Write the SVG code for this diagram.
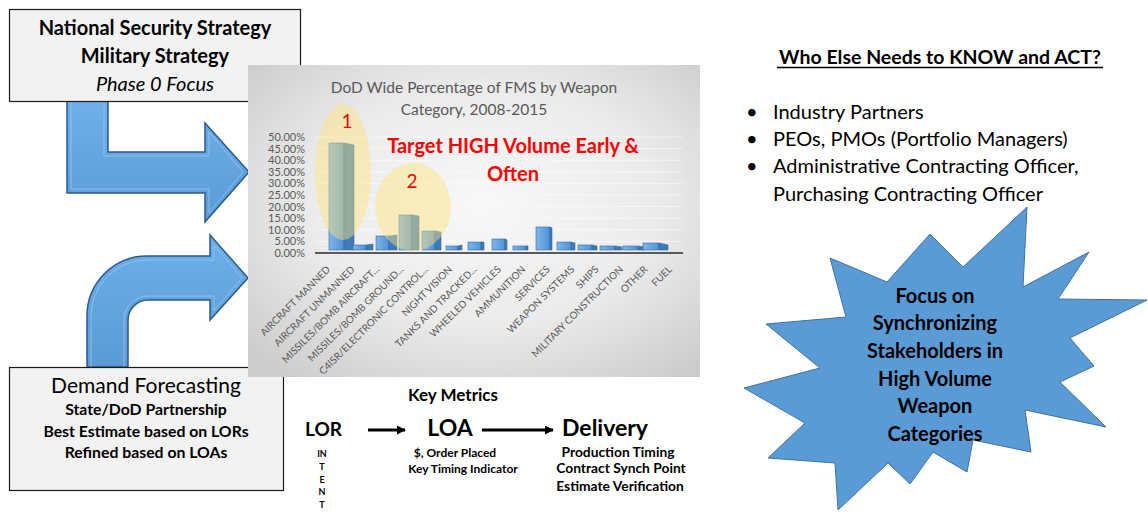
<svg xmlns="http://www.w3.org/2000/svg" width="1148" height="516" viewBox="0 0 1148 516">
<defs>
<style>
.box{fill:#f2f2f2;stroke:#1a1a1a;stroke-width:1.2}
.bigarrow{fill:url(#arrGrad);stroke:#2b5a8a;stroke-width:1.5}
.inner{fill:none;stroke:#9cc6ee;stroke-width:1;opacity:.8}
.t{font-family:Lato,"Liberation Sans",sans-serif;fill:#000}
.b{font-weight:bold}
.c{text-anchor:middle}
.ylab{font-family:Lato,"Liberation Sans",sans-serif;font-size:11px;fill:#595959;text-anchor:end}
.xlab{font-family:Lato,"Liberation Sans",sans-serif;font-size:10px;fill:#595959;text-anchor:end}
.red{font-family:Lato,"Liberation Sans",sans-serif;fill:#ff0000;text-anchor:middle}
.grid{stroke:#ffffff;stroke-width:1;opacity:.55}
.front{fill:url(#barGrad);stroke:#2e6aa8;stroke-width:.6}
.side{fill:#3f7ab8;stroke:#2e6aa8;stroke-width:.6}
.conn{stroke:#000;stroke-width:3;fill:none;marker-end:url(#ah)}
</style>
<linearGradient id="arrGrad" x1="0" y1="0" x2="0" y2="1">
<stop offset="0" stop-color="#6eb0ea"/>
<stop offset="1" stop-color="#5a9ad6"/>
</linearGradient>
<linearGradient id="barGrad" x1="0" y1="0" x2="1" y2="0">
<stop offset="0" stop-color="#7fb6e8"/>
<stop offset="1" stop-color="#5093d4"/>
</linearGradient>
<radialGradient id="chartBg" cx="52%" cy="45%" r="70%">
<stop offset="0" stop-color="#f8f8f8"/>
<stop offset="0.55" stop-color="#ebebeb"/>
<stop offset="1" stop-color="#cccccc"/>
</radialGradient>
<marker id="ah" viewBox="0 0 10 10" refX="9" refY="5" markerWidth="3" markerHeight="3" orient="auto" markerUnits="strokeWidth">
<path d="M0,0 L10,5 L0,10 Z" fill="#000"/>
</marker>
</defs>
<rect width="1148" height="516" fill="#ffffff"/>

<g id="arrow-top">
<path class="bigarrow" d="M67,101 L108,101 L108,152 L205,152 L205,123 L249,172 L205,222 L205,193 L67,193 Z"/>
<path class="inner" d="M71,101 L71,189 L209,189 L209,213 L243,172 L209,132 L209,156 L104,156 L104,101"/>
</g>
<g id="arrow-bottom">
<path class="bigarrow" d="M87,367 L87,316 A60,60 0 0 1 147,256 L210,256 L210,235 L248,278 L210,320 L210,300 L148,300 A20,20 0 0 0 128,320 L128,367 Z"/>
<path class="inner" d="M91,367 L91,316 A56,56 0 0 1 147,260 L214,260 L214,245 L242,278 L214,311 L214,296 L148,296 A24,24 0 0 0 124,320 L124,367"/>
</g>

<g id="box-strategy">
<rect class="box" x="9.5" y="9.5" width="291" height="92"/>
<text class="t b c" x="155" y="35" font-size="20">National Security Strategy</text>
<text class="t b c" x="155" y="63" font-size="20">Military Strategy</text>
<text class="t c" x="155" y="91" font-size="20" font-style="italic">Phase 0 Focus</text>
</g>

<g id="box-demand">
<rect class="box" x="9.5" y="367.5" width="274" height="123"/>
<text class="t c" x="146" y="393" font-size="21">Demand Forecasting</text>
<text class="t b c" x="146" y="415" font-size="15.8">State/DoD Partnership</text>
<text class="t b c" x="146" y="437" font-size="15.8">Best Estimate based on LORs</text>
<text class="t b c" x="146" y="458" font-size="15.8">Refined based on LOAs</text>
</g>

<g id="chart">
<rect x="248" y="65" width="452" height="312" fill="url(#chartBg)"/>
<text class="c" x="474" y="93" font-family="Lato,'Liberation Sans',sans-serif" font-size="15.5" fill="#595959">DoD Wide Percentage of FMS by Weapon</text>
<text class="c" x="474" y="115" font-family="Lato,'Liberation Sans',sans-serif" font-size="15.5" fill="#595959">Category, 2008-2015</text>
<g id="gridlines">
<line class="grid" x1="316" y1="241.4" x2="682" y2="241.4"/>
<line class="grid" x1="316" y1="229.8" x2="682" y2="229.8"/>
<line class="grid" x1="316" y1="218.2" x2="682" y2="218.2"/>
<line class="grid" x1="316" y1="206.6" x2="682" y2="206.6"/>
<line class="grid" x1="316" y1="195" x2="682" y2="195"/>
<line class="grid" x1="316" y1="183.4" x2="682" y2="183.4"/>
<line class="grid" x1="316" y1="171.8" x2="682" y2="171.8"/>
<line class="grid" x1="316" y1="160.2" x2="682" y2="160.2"/>
<line class="grid" x1="316" y1="148.6" x2="682" y2="148.6"/>
<line class="grid" x1="316" y1="137" x2="682" y2="137"/>
</g>
<g id="ylabels">
<text class="ylab" x="305" y="257">0.00%</text>
<text class="ylab" x="305" y="245.4">5.00%</text>
<text class="ylab" x="305" y="233.8">10.00%</text>
<text class="ylab" x="305" y="222.2">15.00%</text>
<text class="ylab" x="305" y="210.6">20.00%</text>
<text class="ylab" x="305" y="199">25.00%</text>
<text class="ylab" x="305" y="187.4">30.00%</text>
<text class="ylab" x="305" y="175.8">35.00%</text>
<text class="ylab" x="305" y="164.2">40.00%</text>
<text class="ylab" x="305" y="152.6">45.00%</text>
<text class="ylab" x="305" y="141">50.00%</text>
</g>
<line x1="315" y1="253" x2="683" y2="253" stroke="#5a5a5a" stroke-width="2"/>
<g id="bars">
<rect class="front" x="329" y="143" width="15" height="107"/><polygon class="side" points="344,143 354,145 354,250 344,250"/>
<rect class="front" x="353" y="245" width="13" height="5"/><polygon class="side" points="366,245 373,244 373,250 366,250"/>
<rect class="front" x="376" y="236" width="13" height="14"/><polygon class="side" points="389,236 397,235 397,250 389,250"/>
<rect class="front" x="399" y="215" width="13" height="35"/><polygon class="side" points="412,215 419,216 419,250 412,250"/>
<rect class="front" x="422" y="231" width="13" height="19"/><polygon class="side" points="435,231 441,232 441,250 435,250"/>
<rect class="front" x="446" y="246" width="12" height="4"/><polygon class="side" points="458,246 462,245 462,250 458,250"/>
<rect class="front" x="468" y="242" width="13" height="8"/><polygon class="side" points="481,242 484,242 484,250 481,250"/>
<rect class="front" x="492" y="239" width="13" height="11"/><polygon class="side" points="505,239 507,240 507,250 505,250"/>
<rect class="front" x="513" y="246" width="13" height="4"/><polygon class="side" points="526,246 528,246 528,250 526,250"/>
<rect class="front" x="536" y="227" width="14" height="23"/><polygon class="side" points="550,227 552,228 552,250 550,250"/>
<rect class="front" x="557" y="242" width="14" height="8"/><polygon class="side" points="571,242 575,243 575,250 571,250"/>
<rect class="front" x="578" y="245" width="14" height="5"/><polygon class="side" points="592,245 597,246 597,250 592,250"/>
<rect class="front" x="600" y="246" width="15" height="4"/><polygon class="side" points="615,246 622,247 622,250 615,250"/>
<rect class="front" x="623" y="246" width="15" height="4"/><polygon class="side" points="638,246 645,247 645,250 638,250"/>
<rect class="front" x="643" y="243" width="16" height="7"/><polygon class="side" points="659,243 668,245 668,250 659,250"/>
</g>
<g id="highlights">
<ellipse cx="343" cy="172" rx="28" ry="68" fill="#ffe27a" opacity="0.45"/>
<ellipse cx="413" cy="207" rx="38" ry="44" fill="#ffe27a" opacity="0.45"/>
</g>
<g id="xlabels">
<text class="xlab" transform="translate(331,270) rotate(-45)">AIRCRAFT MANNED</text>
<text class="xlab" transform="translate(355.4,270) rotate(-45)">AIRCRAFT UNMANNED</text>
<text class="xlab" transform="translate(379.8,270) rotate(-45)">MISSILES/BOMB AIRCRAFT...</text>
<text class="xlab" transform="translate(404.2,270) rotate(-45)">MISSILES/BOMB GROUND...</text>
<text class="xlab" transform="translate(428.6,270) rotate(-45)">C4ISR/ELECTRONIC CONTROL...</text>
<text class="xlab" transform="translate(453,270) rotate(-45)">NIGHT VISION</text>
<text class="xlab" transform="translate(477.4,270) rotate(-45)">TANKS AND TRACKED...</text>
<text class="xlab" transform="translate(501.8,270) rotate(-45)">WHEELED VEHICLES</text>
<text class="xlab" transform="translate(526.2,270) rotate(-45)">AMMUNITION</text>
<text class="xlab" transform="translate(550.6,270) rotate(-45)">SERVICES</text>
<text class="xlab" transform="translate(575,270) rotate(-45)">WEAPON SYSTEMS</text>
<text class="xlab" transform="translate(599.4,270) rotate(-45)">SHIPS</text>
<text class="xlab" transform="translate(623.8,270) rotate(-45)">MILITARY CONSTRUCTION</text>
<text class="xlab" transform="translate(648.2,270) rotate(-45)">OTHER</text>
<text class="xlab" transform="translate(672.6,270) rotate(-45)">FUEL</text>
</g>
<text class="red" x="347" y="128" font-size="19">1</text>
<text class="red" x="412" y="188" font-size="19">2</text>
<text class="red" x="513" y="153" font-size="20" font-weight="bold">Target HIGH Volume Early &amp;</text>
<text class="red" x="513" y="181" font-size="20" font-weight="bold">Often</text>
</g>

<g id="metrics">
<text class="t b c" x="453" y="401" font-size="17">Key Metrics</text>
<g id="node-lor">
<text class="t b" x="305" y="436" font-size="19">LOR</text>
<text class="t b c" x="322" y="457" font-size="9">IN</text>
<text class="t b c" x="322" y="470" font-size="9">T</text>
<text class="t b c" x="322" y="483" font-size="9">E</text>
<text class="t b c" x="322" y="495" font-size="9">N</text>
<text class="t b c" x="322" y="508" font-size="9">T</text>
</g>
<g id="node-loa">
<text class="t b c" x="450" y="436" font-size="23">LOA</text>
<text class="t b c" x="455" y="457" font-size="12">$, Order Placed</text>
<text class="t b c" x="463" y="473" font-size="12">Key Timing Indicator</text>
</g>
<g id="node-delivery">
<text class="t b c" x="605" y="436" font-size="23">Delivery</text>
<text class="t b c" x="618" y="457" font-size="13.8">Production Timing</text>
<text class="t b c" x="621" y="473" font-size="13.8">Contract Synch Point</text>
<text class="t b c" x="620" y="491" font-size="13.8">Estimate Verification</text>
</g>
<g id="connectors">
<line class="conn" x1="368" y1="430" x2="405" y2="430"/>
<line class="conn" x1="482" y1="430" x2="553" y2="430"/>
</g>
</g>

<g id="who-else">
<text class="t b c" x="940" y="64" font-size="19.5">Who Else Needs to KNOW and ACT?</text>
<line x1="777" y1="67.5" x2="1103" y2="67.5" stroke="#000" stroke-width="1.5"/>
<text class="t" x="746" y="119" font-size="20">•</text>
<text class="t" x="773" y="119" font-size="20">Industry Partners</text>
<text class="t" x="746" y="146" font-size="20">•</text>
<text class="t" x="773" y="146" font-size="20">PEOs, PMOs (Portfolio Managers)</text>
<text class="t" x="746" y="173" font-size="20">•</text>
<text class="t" x="773" y="173" font-size="20">Administrative Contracting Officer,</text>
<text class="t" x="773" y="201" font-size="20">Purchasing Contracting Officer</text>
</g>

<g id="starburst">
<polygon points="1027,207 1023,287 1089,252 1058,299 1147,300 1070,338 1094,366 1060,382 1106,427 1025,410 1031,452 973,440 967,472 933,452 910,484 888,463 838,510 835,463 768,458 805,423 744,388 820,368 766,324 846,317 830,258 887,282 930,234 963,267" fill="#5b9bd5" stroke="#41719c" stroke-width="1"/>
<text class="t b c" x="935" y="303" font-size="20">Focus on</text>
<text class="t b c" x="935" y="330" font-size="20">Synchronizing</text>
<text class="t b c" x="935" y="358" font-size="20">Stakeholders in</text>
<text class="t b c" x="935" y="386" font-size="20">High Volume</text>
<text class="t b c" x="935" y="413" font-size="20">Weapon</text>
<text class="t b c" x="935" y="441" font-size="20">Categories</text>
</g>
</svg>
